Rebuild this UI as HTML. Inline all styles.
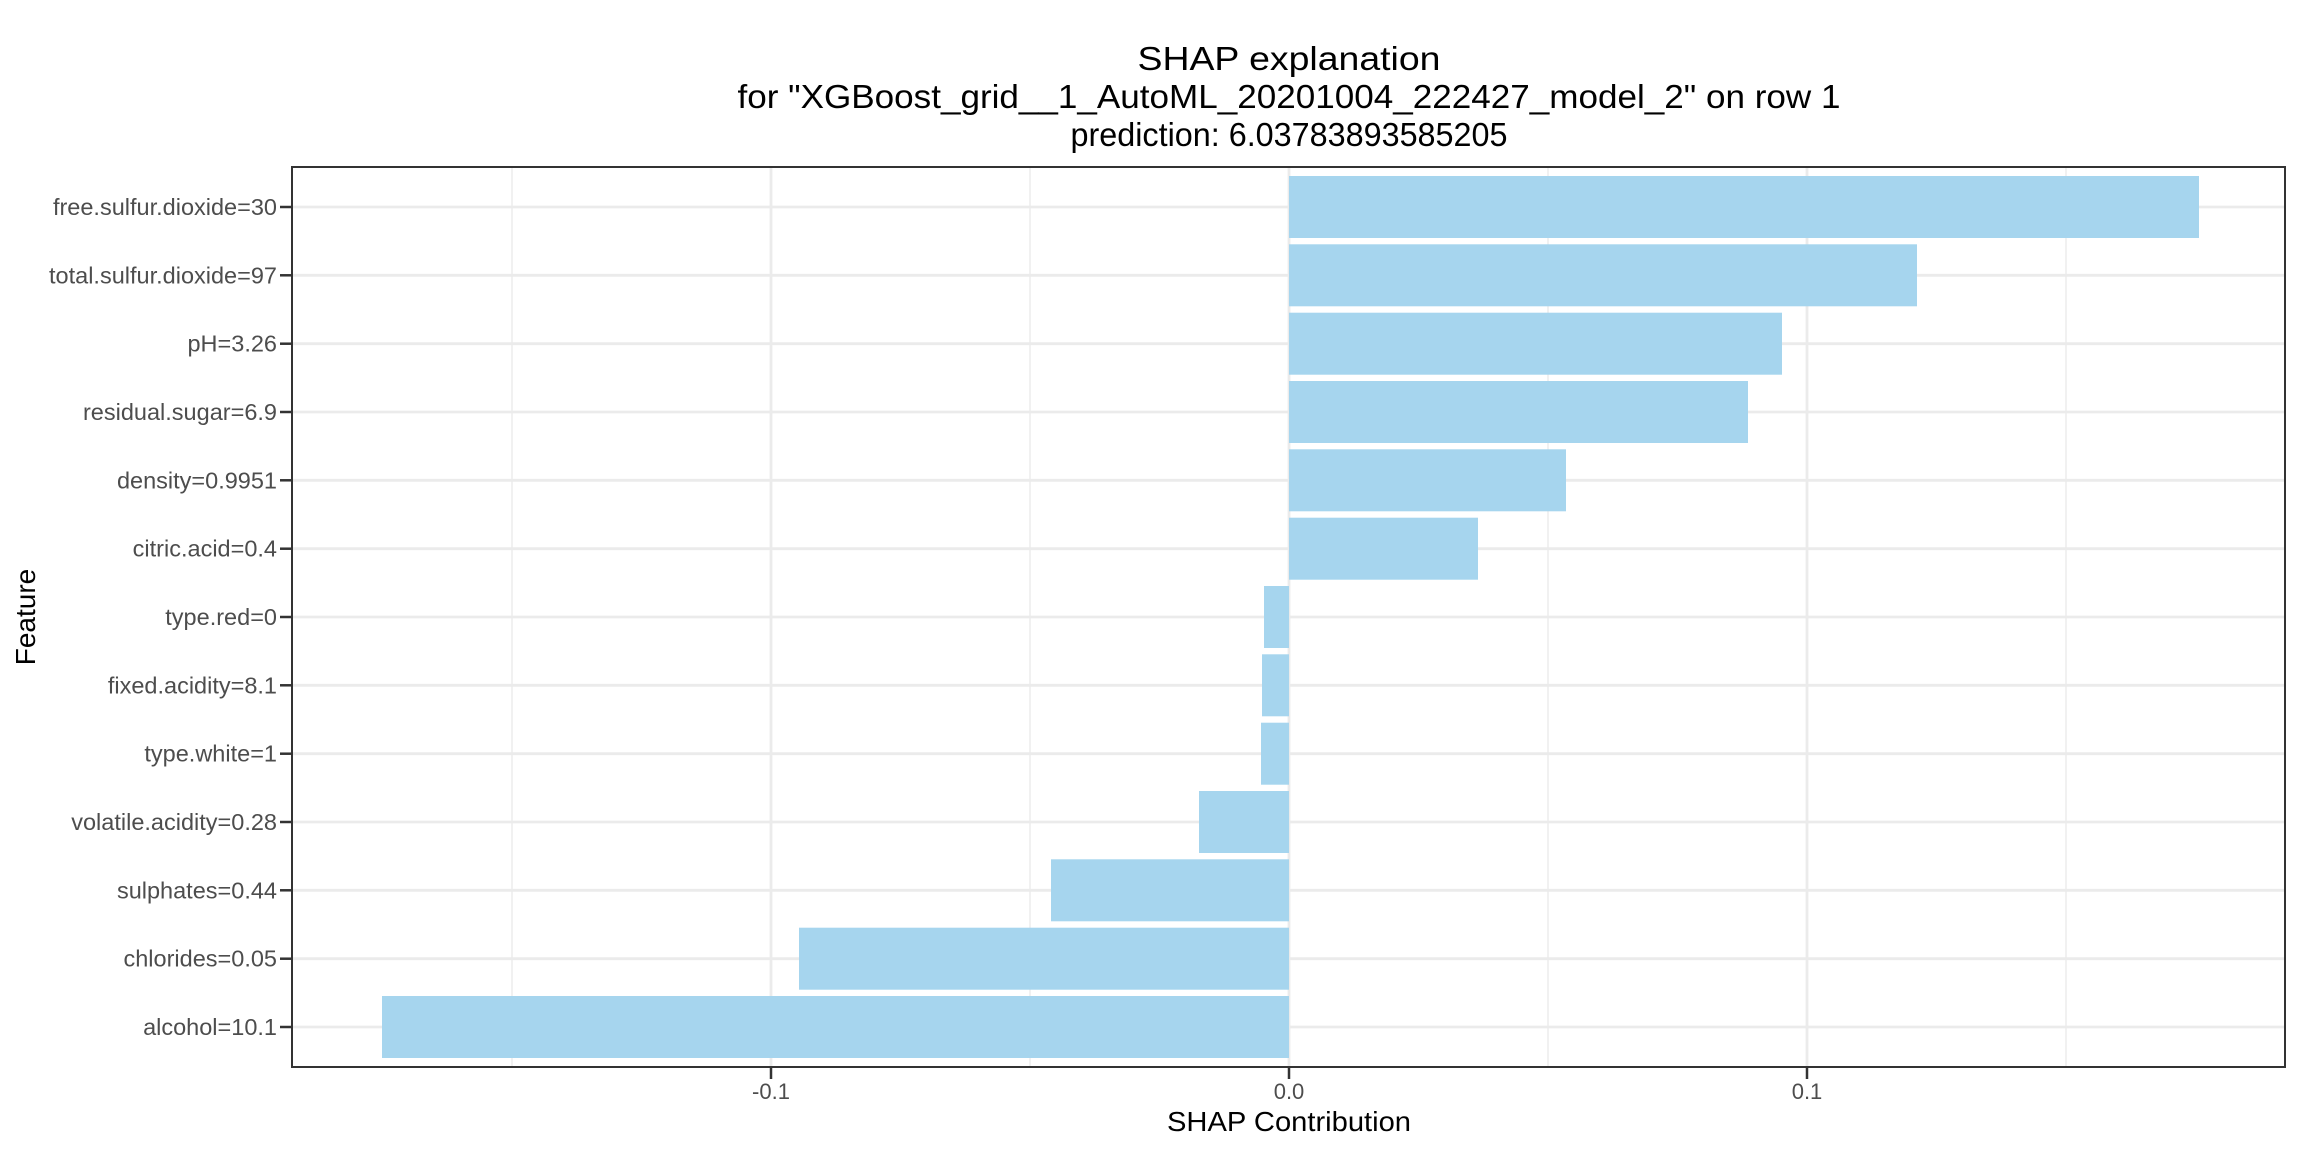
<!DOCTYPE html>
<html><head><style>body{margin:0;background:#fff}svg{display:block}</style></head>
<body>
<svg width="2304" height="1152" xmlns="http://www.w3.org/2000/svg" font-family="Liberation Sans, Arial, sans-serif">
<rect width="2304" height="1152" fill="#fff"/>
<g stroke="#EBEBEB" stroke-width="1.4">
<line x1="512" y1="167" x2="512" y2="1067"/><line x1="1030" y1="167" x2="1030" y2="1067"/><line x1="1548" y1="167" x2="1548" y2="1067"/><line x1="2066" y1="167" x2="2066" y2="1067"/>
</g>
<g stroke="#EBEBEB" stroke-width="2.8">
<line x1="771" y1="167" x2="771" y2="1067"/><line x1="1289" y1="167" x2="1289" y2="1067"/><line x1="1807" y1="167" x2="1807" y2="1067"/>
<line x1="292" y1="207" x2="2285" y2="207"/><line x1="292" y1="275.3" x2="2285" y2="275.3"/><line x1="292" y1="343.7" x2="2285" y2="343.7"/><line x1="292" y1="412" x2="2285" y2="412"/><line x1="292" y1="480.3" x2="2285" y2="480.3"/><line x1="292" y1="548.7" x2="2285" y2="548.7"/><line x1="292" y1="617" x2="2285" y2="617"/><line x1="292" y1="685.3" x2="2285" y2="685.3"/><line x1="292" y1="753.7" x2="2285" y2="753.7"/><line x1="292" y1="822" x2="2285" y2="822"/><line x1="292" y1="890.3" x2="2285" y2="890.3"/><line x1="292" y1="958.7" x2="2285" y2="958.7"/><line x1="292" y1="1027" x2="2285" y2="1027"/>
</g>
<g fill="#A6D5EE">
<rect x="1289" y="176" width="910" height="62"/>
<rect x="1289" y="244.3" width="628" height="62"/>
<rect x="1289" y="312.7" width="493" height="62"/>
<rect x="1289" y="381" width="459" height="62"/>
<rect x="1289" y="449.3" width="277" height="62"/>
<rect x="1289" y="517.7" width="189" height="62"/>
<rect x="1264" y="586" width="25" height="62"/>
<rect x="1262" y="654.3" width="27" height="62"/>
<rect x="1261" y="722.7" width="28" height="62"/>
<rect x="1199" y="791" width="90" height="62"/>
<rect x="1051" y="859.3" width="238" height="62"/>
<rect x="799" y="927.7" width="490" height="62"/>
<rect x="382" y="996" width="907" height="62"/>
</g>
<rect x="292" y="167" width="1993" height="900" fill="none" stroke="#333" stroke-width="2"/>
<g stroke="#333" stroke-width="2.5">
<line x1="280" y1="207" x2="292" y2="207"/><line x1="280" y1="275.3" x2="292" y2="275.3"/><line x1="280" y1="343.7" x2="292" y2="343.7"/><line x1="280" y1="412" x2="292" y2="412"/><line x1="280" y1="480.3" x2="292" y2="480.3"/><line x1="280" y1="548.7" x2="292" y2="548.7"/><line x1="280" y1="617" x2="292" y2="617"/><line x1="280" y1="685.3" x2="292" y2="685.3"/><line x1="280" y1="753.7" x2="292" y2="753.7"/><line x1="280" y1="822" x2="292" y2="822"/><line x1="280" y1="890.3" x2="292" y2="890.3"/><line x1="280" y1="958.7" x2="292" y2="958.7"/><line x1="280" y1="1027" x2="292" y2="1027"/>
<line x1="771" y1="1067" x2="771" y2="1079"/><line x1="1289" y1="1067" x2="1289" y2="1079"/><line x1="1807" y1="1067" x2="1807" y2="1079"/>
</g>
<g fill="#4D4D4D" font-size="23.5" text-anchor="end">
<text x="277" y="215">free.sulfur.dioxide=30</text>
<text x="277" y="283.3">total.sulfur.dioxide=97</text>
<text x="277" y="351.7">pH=3.26</text>
<text x="277" y="420">residual.sugar=6.9</text>
<text x="277" y="488.3">density=0.9951</text>
<text x="277" y="556.7">citric.acid=0.4</text>
<text x="277" y="625">type.red=0</text>
<text x="277" y="693.3">fixed.acidity=8.1</text>
<text x="277" y="761.7">type.white=1</text>
<text x="277" y="830">volatile.acidity=0.28</text>
<text x="277" y="898.3">sulphates=0.44</text>
<text x="277" y="966.7">chlorides=0.05</text>
<text x="277" y="1035">alcohol=10.1</text>
</g>
<g fill="#4D4D4D" font-size="22" text-anchor="middle">
<text x="771" y="1099">-0.1</text><text x="1289" y="1099">0.0</text><text x="1807" y="1099">0.1</text>
</g>
<text x="1289" y="1131" font-size="28" text-anchor="middle" fill="#000" textLength="244" lengthAdjust="spacingAndGlyphs">SHAP Contribution</text>
<text transform="translate(35,617) rotate(-90)" font-size="28" text-anchor="middle" fill="#000">Feature</text>
<g font-size="33" text-anchor="middle" fill="#000">
<text x="1289" y="70" textLength="303" lengthAdjust="spacingAndGlyphs">SHAP explanation</text>
<text x="1289" y="108" textLength="1103" lengthAdjust="spacingAndGlyphs">for "XGBoost_grid__1_AutoML_20201004_222427_model_2" on row 1</text>
<text x="1289" y="146" textLength="437" lengthAdjust="spacingAndGlyphs">prediction: 6.03783893585205</text>
</g>
</svg>
</body></html>
